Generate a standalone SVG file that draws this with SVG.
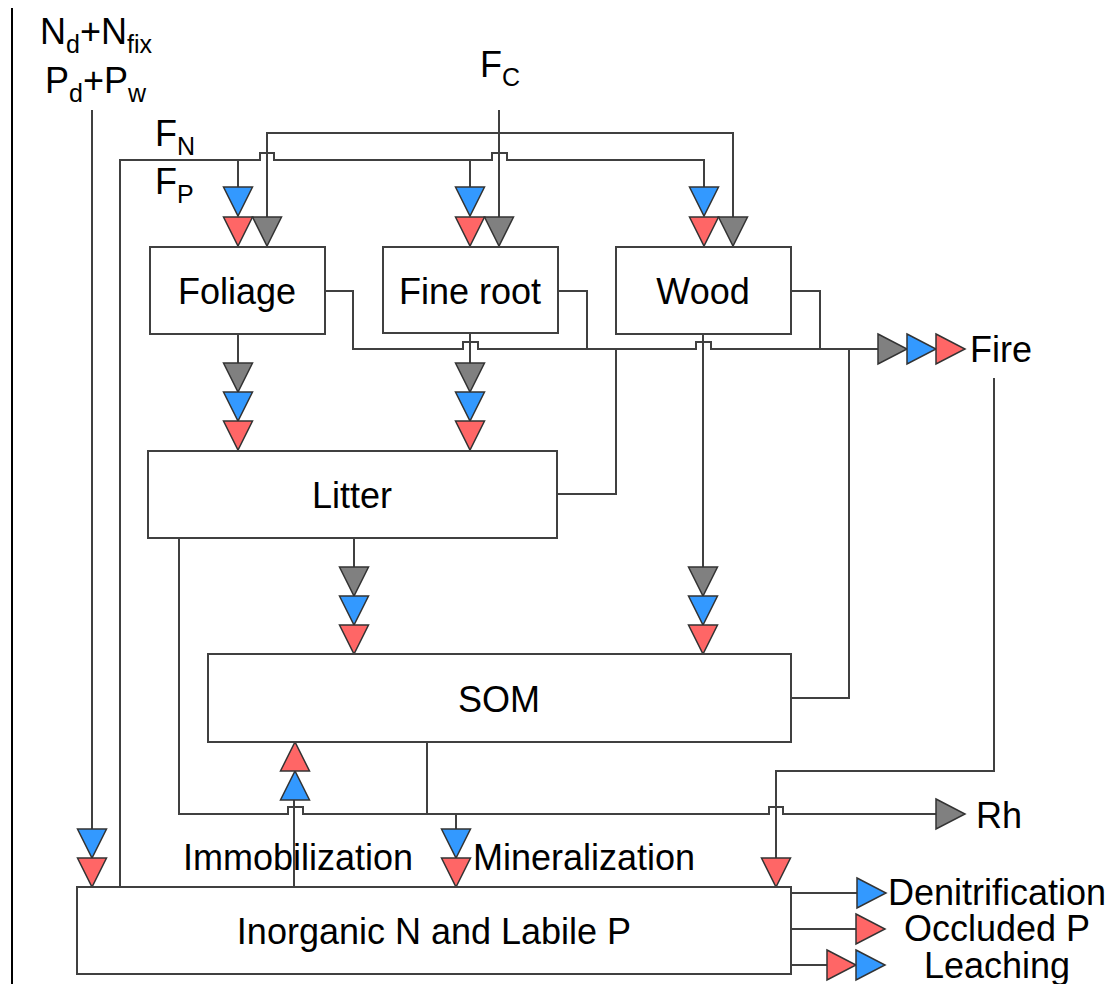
<svg xmlns="http://www.w3.org/2000/svg" xmlns:xlink="http://www.w3.org/1999/xlink" width="1111" height="984" viewBox="0 0 1111 984">
<style>
.box{fill:#fff;stroke:#404040;stroke-width:2}
.ln{fill:none;stroke:#404040;stroke-width:2}
.t{font-family:"Liberation Sans",Arial,sans-serif;font-size:36px;fill:#000}
.s{font-size:25px}
.m{text-anchor:middle}
.blue{fill:#3399ff}
.red{fill:#ff6666}
.gray{fill:#808080}
.tri{stroke:#333;stroke-width:1.5;stroke-linejoin:miter}
</style>
<defs>
<path id="dn" d="M-14.5,0 H14.5 L0,29 Z"/>
<path id="up" d="M-14.5,0 H14.5 L0,-29 Z"/>
<path id="rt" d="M0,-15 L29,0 L0,15 Z"/>
</defs>
<rect width="1111" height="984" fill="#fff"/>
<line x1="12" y1="8" x2="12" y2="984" stroke="#000" stroke-width="2"/>

<g id="connectors">
<path class="ln" d="M120,887 V160 H260 V153 H274 V160 H492 V153 H507 V160 H704 V187"/>
<path class="ln" d="M238,160 V187 M470,160 V187"/>
<path class="ln" d="M499,110 V217 M267,217 V133 H733 V217"/>
<path class="ln" d="M325,291 H353 V349 H463 V342 H478 V349 H696 V342 H711 V349 H878"/>
<path class="ln" d="M558,291 H587 V349 M791,291 H820 V349 M557,494 H616 V349 M791,698 H849 V349"/>
<path class="ln" d="M238,334 V363 M470,334 V363 M354,538 V567 M703,334 V567"/>
<path class="ln" d="M179,538 V814 H288 V807 H303 V814 H769 V807 H783 V814 H936 M427,742 V814 M456,814 V829"/>
<path class="ln" d="M294,887 V800"/>
<path class="ln" d="M994,378 V771 H776 V858"/>
<path class="ln" d="M92,110 V829"/>
<path class="ln" d="M791,893 H857 M791,929 H856 M791,965 H827"/>
</g>

<g id="arrowheads" class="tri">
<use href="#dn" x="238" y="187" class="blue"/>
<use href="#dn" x="470" y="187" class="blue"/>
<use href="#dn" x="704" y="187" class="blue"/>
<use href="#dn" x="238" y="217" class="red"/>
<use href="#dn" x="470" y="217" class="red"/>
<use href="#dn" x="704" y="217" class="red"/>
<use href="#dn" x="267" y="217" class="gray"/>
<use href="#dn" x="499" y="217" class="gray"/>
<use href="#dn" x="733" y="217" class="gray"/>
<use href="#dn" x="238" y="363" class="gray"/>
<use href="#dn" x="238" y="392" class="blue"/>
<use href="#dn" x="238" y="421" class="red"/>
<use href="#dn" x="470" y="363" class="gray"/>
<use href="#dn" x="470" y="392" class="blue"/>
<use href="#dn" x="470" y="421" class="red"/>
<use href="#dn" x="354" y="567" class="gray"/>
<use href="#dn" x="354" y="596" class="blue"/>
<use href="#dn" x="354" y="625" class="red"/>
<use href="#dn" x="703" y="567" class="gray"/>
<use href="#dn" x="703" y="596" class="blue"/>
<use href="#dn" x="703" y="625" class="red"/>
<use href="#dn" x="456" y="829" class="blue"/>
<use href="#dn" x="456" y="858" class="red"/>
<use href="#dn" x="92" y="829" class="blue"/>
<use href="#dn" x="92" y="858" class="red"/>
<use href="#dn" x="776" y="858" class="red"/>
<use href="#up" x="295" y="800" class="blue"/>
<use href="#up" x="295" y="771" class="red"/>
<use href="#rt" x="878" y="349" class="gray"/>
<use href="#rt" x="907" y="349" class="blue"/>
<use href="#rt" x="936" y="349" class="red"/>
<use href="#rt" x="936" y="814" class="gray"/>
<use href="#rt" x="857" y="893" class="blue"/>
<use href="#rt" x="856" y="929" class="red"/>
<use href="#rt" x="827" y="965" class="red"/>
<use href="#rt" x="856" y="965" class="blue"/>
</g>

<g id="foliage"><rect class="box" x="150" y="247" width="175" height="87"/><text class="t m" x="237" y="304">Foliage</text></g>
<g id="fineroot"><rect class="box" x="383" y="247" width="175" height="86"/><text class="t m" x="470" y="304">Fine root</text></g>
<g id="wood"><rect class="box" x="616" y="247" width="175" height="87"/><text class="t m" x="703" y="304">Wood</text></g>
<g id="litter"><rect class="box" x="148" y="451" width="409" height="87"/><text class="t m" x="352" y="508">Litter</text></g>
<g id="som"><rect class="box" x="208" y="654" width="583" height="88"/><text class="t m" x="499" y="712">SOM</text></g>
<g id="inorganic"><rect class="box" x="77" y="887" width="714" height="87"/><text class="t m" x="434" y="944">Inorganic N and Labile P</text></g>

<g id="labels">
<text class="t" x="40" y="44">N<tspan class="s" dy="9">d</tspan><tspan dy="-9">+N</tspan><tspan class="s" dy="9">fix</tspan></text>
<text class="t" x="45" y="93">P<tspan class="s" dy="9">d</tspan><tspan dy="-9">+P</tspan><tspan class="s" dy="9">w</tspan></text>
<text class="t" x="155" y="146">F<tspan class="s" dy="9">N</tspan></text>
<text class="t" x="155" y="194">F<tspan class="s" dy="9">P</tspan></text>
<text class="t" x="480" y="77">F<tspan class="s" dy="9">C</tspan></text>
<text class="t" x="970" y="362">Fire</text>
<text class="t" x="976" y="828">Rh</text>
<text class="t" x="183" y="870">Immobilization</text>
<text class="t" x="473" y="870">Mineralization</text>
<text class="t" x="888" y="905">Denitrification</text>
<text class="t" x="904" y="941">Occluded P</text>
<text class="t" x="924" y="978">Leaching</text>
</g>
</svg>
